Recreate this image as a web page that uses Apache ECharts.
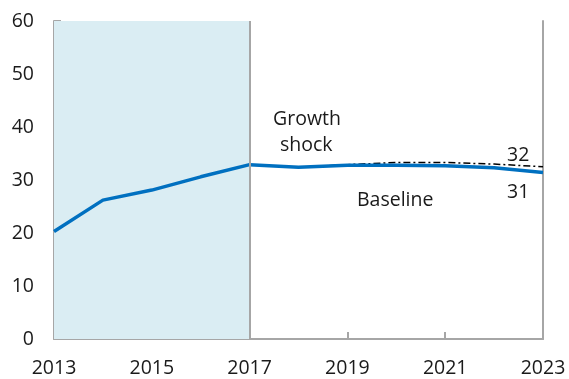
<!DOCTYPE html>
<html><head><meta charset="utf-8">
<script src="https://cdn.jsdelivr.net/npm/echarts@6/dist/echarts.min.js"></script>
<style>html,body{margin:0;padding:0;background:#fff}#c{width:569px;height:379px}</style>
</head><body><div id="c"></div>
<script>
var years = [2013,2014,2015,2016,2017,2018,2019,2020,2021,2022,2023];
var baseline = [20.3,26.2,28.1,30.6,32.9,32.4,32.8,32.8,32.7,32.3,31.4];
var shockYears = [2018,2019,2020,2021,2022,2023];
var growthShock = [32.4,32.9,33.3,33.3,33.0,32.5];
var xTicks = [2013,2015,2017,2019,2021,2023];
var yTicks = [0,10,20,30,40,50,60];
var shadeRange = [2013,2017];

var font = '"Open Sans", "Noto Sans", sans-serif';
var fs = 19.5;
var gray = '#A6A6A6';
var ink = '#1a1a1a';
var chart = echarts.init(document.getElementById('c'));
function note(text, x, y){
  return {type:'text',x:x,y:y,style:{text:text,font:fs+'px '+font,fill:ink,textAlign:'left',textVerticalAlign:'middle'}};
}
chart.setOption({
  animation:false,
  grid:{left:54,right:26,top:21,bottom:40},
  xAxis:{type:'value',min:2013,max:2023,interval:2,
    axisLine:{lineStyle:{color:gray,width:2}},
    axisTick:{inside:true,length:7,lineStyle:{color:gray,width:2}},
    axisLabel:{color:ink,fontSize:fs,fontFamily:font,margin:19,formatter:function(v){return String(v);}},
    splitLine:{show:false}},
  yAxis:[{type:'value',min:0,max:60,interval:10,
    axisLine:{show:true,lineStyle:{color:gray,width:2}},
    axisTick:{show:true,inside:true,length:7,lineStyle:{color:gray,width:2}},
    axisLabel:{color:ink,fontSize:fs,fontFamily:font,margin:20},
    splitLine:{show:false}},
   {type:'value',min:0,max:60,interval:10,position:'right',
    axisLine:{show:true,lineStyle:{color:gray,width:2}},
    axisTick:{show:false},axisLabel:{show:false},splitLine:{show:false}}],
  series:[
    {type:'line',data:shockYears.map(function(y,i){return [y,growthShock[i]];}),
     symbol:'none',lineStyle:{color:'#000',width:1.5,type:[7,3,2,3]},z:2},
    {type:'line',data:years.map(function(y,i){return [y,baseline[i]];}),
     symbol:'none',lineStyle:{color:'#0070C0',width:3.5},z:3,
     markArea:{silent:true,itemStyle:{color:'#DAEDF3'},data:[[{xAxis:shadeRange[0]},{xAxis:shadeRange[1]}]]},
     markLine:{silent:true,symbol:'none',label:{show:false},lineStyle:{color:gray,width:2,type:'solid'},data:[{xAxis:shadeRange[1]}]}}
  ],
  graphic:[
    note('Growth',273,119),
    note('shock',280,145),
    note('Baseline',357,200),
    note('32',507,155),
    note('31',507,192)
  ]
});
</script></body></html>
